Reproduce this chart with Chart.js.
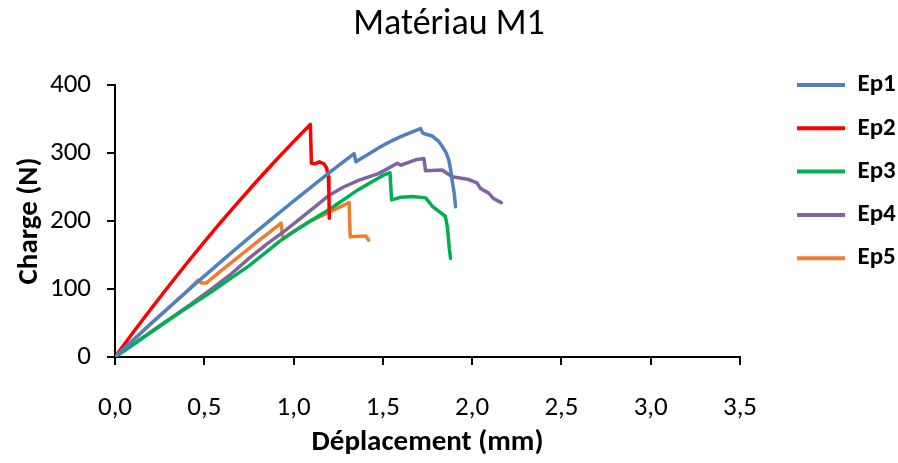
<!DOCTYPE html>
<html>
<head>
<meta charset="utf-8">
<script src="https://cdn.jsdelivr.net/npm/chart.js@4.4.1/dist/chart.umd.min.js"></script>
<style>
  html, body { margin: 0; padding: 0; background: #fff; }
  #wrap { width: 898px; height: 463px; position: relative; }
</style>
</head>
<body>
<div id="wrap"><canvas id="c"></canvas></div>
<script>
// ---- Data ----
const seriesNames = ["Ep1", "Ep2", "Ep3", "Ep4", "Ep5"];

const ep1X = [0, 0.1, 0.2, 0.3, 0.4, 0.5, 0.6, 0.7, 0.8, 0.9, 1.0, 1.1, 1.2, 1.339, 1.349, 1.423, 1.48, 1.535, 1.6, 1.665, 1.711, 1.724, 1.776, 1.81, 1.832, 1.855, 1.869, 1.88, 1.888, 1.9, 1.907];
const ep1Y = [0, 24.5, 48.6, 72.4, 95.9, 119, 141.7, 164.1, 186.2, 207.9, 229.3, 250.3, 271, 299, 287, 299, 308, 316, 324, 331, 336, 329, 325, 318, 310, 300, 290, 275, 260, 240, 221];

const ep2X = [0, 0.1, 0.2, 0.3, 0.4, 0.5, 0.6, 0.7, 0.8, 0.9, 1.0, 1.094, 1.1, 1.12, 1.144, 1.17, 1.185, 1.195, 1.198, 1.2];
const ep2Y = [0, 35.6, 70.3, 104.1, 137.1, 169.2, 200.4, 230.8, 260.3, 288.9, 316.7, 342, 285, 284, 287, 284, 278, 265, 240, 204];

const ep3X = [0, 0.1, 0.25, 0.4, 0.53, 0.65, 0.75, 0.85, 0.921, 1.0, 1.1, 1.2, 1.35, 1.5, 1.54, 1.549, 1.6, 1.665, 1.74, 1.776, 1.81, 1.85, 1.862, 1.872, 1.879];
const ep3Y = [0, 18, 45, 72, 94, 116, 134, 155, 170, 184, 201, 217, 244, 267, 271, 231, 235, 236, 234, 222, 215, 207, 190, 160, 145];

const ep4X = [0, 0.1, 0.25, 0.4, 0.53, 0.65, 0.75, 0.85, 0.958, 1.088, 1.2, 1.28, 1.367, 1.479, 1.581, 1.6, 1.683, 1.73, 1.739, 1.832, 1.888, 1.981, 2.027, 2.046, 2.093, 2.12, 2.163];
const ep4Y = [0, 18, 46, 73, 98, 122, 145, 166, 187, 214, 238, 250, 260, 270, 285, 282, 290, 292, 274, 275, 265, 261, 256, 248, 241, 233, 227];

const ep5X = [0, 0.1, 0.2, 0.3, 0.4, 0.465, 0.484, 0.512, 0.6, 0.7, 0.8, 0.93, 0.94, 1.0, 1.088, 1.2, 1.311, 1.317, 1.405, 1.42];
const ep5Y = [0, 24, 49, 72, 96, 113, 109, 109, 128, 149, 170, 197, 174, 185, 199, 213, 227, 177, 178, 172];

const xTickValues = [0, 0.5, 1, 1.5, 2, 2.5, 3, 3.5];
const yTickValues = [0, 100, 200, 300, 400];

const seriesColors = ["#4F81BD", "#FF0000", "#00B050", "#8064A2", "#ED7D31"];

// ---- Build datasets ----
const xs = [ep1X, ep2X, ep3X, ep4X, ep5X];
const ys = [ep1Y, ep2Y, ep3Y, ep4Y, ep5Y];
const datasets = seriesNames.map((name, i) => ({
  label: name,
  data: xs[i].map((x, k) => ({ x: x, y: ys[i][k] })),
  borderColor: seriesColors[i],
  backgroundColor: seriesColors[i],
  borderWidth: 3.5,
  pointRadius: 0,
  showLine: true,
  tension: 0,
  borderJoinStyle: 'round',
  borderCapStyle: 'round'
}));

const FONT = "Carlito, Lato, 'Liberation Sans', sans-serif";

new Chart(document.getElementById('c'), {
  type: 'scatter',
  data: { datasets: datasets },
  options: {
    responsive: true,
    maintainAspectRatio: false,
    animation: false,
    layout: { padding: 0 },
    plugins: {
      title: {
        display: true,
        text: 'Matériau M1',
        color: '#000',
        font: { family: FONT, size: 36, weight: 'normal' },
        padding: { top: 3.4, bottom: 38.4 }
      },
      legend: {
        display: true,
        position: 'right',
        align: 'start',
        maxWidth: 119.3,
        title: { display: true, text: ' ', font: { size: 10 }, padding: { top: 42.2, bottom: 0 } },
        labels: {
          color: '#000',
          font: { family: FONT, size: 25, weight: 'bold' },
          boxWidth: 48,
          boxHeight: 4,
          padding: 18.3,
          generateLabels: function (chart) {
            const items = Chart.defaults.plugins.legend.labels.generateLabels(chart);
            items.forEach(it => { it.lineWidth = 0; });
            return items;
          }
        }
      },
      tooltip: { enabled: false }
    },
    scales: {
      x: {
        type: 'linear',
        position: 'bottom',
        min: 0,
        max: 3.5,
        afterBuildTicks: s => { s.ticks = xTickValues.map(v => ({ value: v })); },
        afterFit: s => { s.height = 106; },
        ticks: {
          color: '#000',
          font: { family: FONT, size: 27 },
          padding: 26.8,
          maxRotation: 0,
          callback: v => v.toFixed(1).replace('.', ',')
        },
        grid: { display: true, drawOnChartArea: false, drawTicks: true, tickLength: 8, color: '#000', lineWidth: 2 },
        border: { display: true, color: '#000', width: 2 },
        title: {
          display: true,
          text: 'Déplacement (mm)',
          color: '#000',
          font: { family: FONT, size: 29, weight: 'bold' },
          padding: { top: 0, bottom: 3 }
        }
      },
      y: {
        type: 'linear',
        position: 'left',
        min: 0,
        max: 400,
        afterBuildTicks: s => { s.ticks = yTickValues.map(v => ({ value: v })); },
        afterFit: s => { s.width = 115; },
        ticks: {
          color: '#000',
          font: { family: FONT, size: 27 },
          padding: 16
        },
        grid: { display: true, drawOnChartArea: false, drawTicks: true, tickLength: 8, color: '#000', lineWidth: 2 },
        border: { display: true, color: '#000', width: 2 },
        title: {
          display: true,
          text: 'Charge (N)',
          color: '#000',
          font: { family: FONT, size: 29, weight: 'bold' },
          padding: { top: 12.6, bottom: 0 }
        }
      },
      spacer: {
        type: 'linear',
        position: 'right',
        display: true,
        ticks: { display: false },
        grid: { display: false, drawTicks: false },
        border: { display: false },
        afterFit: s => { s.width = 38.7; }
      }
    }
  }
});
</script>
</body>
</html>
